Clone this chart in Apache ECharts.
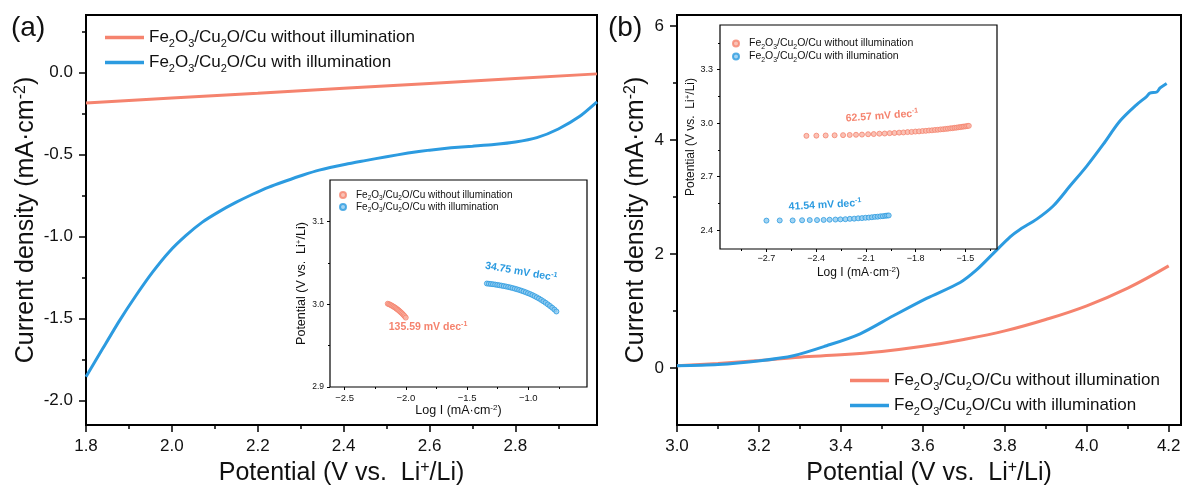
<!DOCTYPE html>
<html>
<head>
<meta charset="utf-8">
<script src="https://cdn.jsdelivr.net/npm/echarts@6/dist/echarts.min.js"></script>
<style>
  html, body { margin: 0; padding: 0; background: #fff; }
  #chart { width: 1186px; height: 491px; }
</style>
</head>
<body>
<div id="chart"></div>
<script>
// ---------- Panel (a): LSV, 1.8 – 3.0 V ----------
const aDarkPotential = [1.80, 2.00, 2.20, 2.40, 2.60, 2.80, 2.99];
const aDarkCurrent   = [-0.186, -0.156, -0.127, -0.097, -0.067, -0.037, -0.009];

const aLightPotential = [1.800, 1.839, 1.877, 1.916, 1.955, 1.994, 2.033, 2.071, 2.110, 2.149, 2.188, 2.226,
                         2.265, 2.304, 2.343, 2.405, 2.45, 2.50, 2.55, 2.60, 2.65, 2.70, 2.75, 2.80,
                         2.85, 2.90, 2.95, 2.99];
const aLightCurrent   = [-1.856, -1.684, -1.518, -1.362, -1.218, -1.093, -0.994, -0.913, -0.849, -0.793, -0.743, -0.699,
                         -0.662, -0.627, -0.596, -0.560, -0.538, -0.514, -0.492, -0.474, -0.460, -0.450, -0.440, -0.425,
                         -0.398, -0.345, -0.268, -0.180];

// Panel (a) inset: Tafel plot
const aTafelDarkLogI = [-2.148, -2.138, -2.128, -2.119, -2.110, -2.100, -2.091, -2.082, -2.073, -2.064,
                        -2.055, -2.046, -2.037, -2.028, -2.019, -2.010, -2.001];
const aTafelDarkE    = [3.0006, 3.0000, 2.9993, 2.9986, 2.9978, 2.9970, 2.9961, 2.9952, 2.9942, 2.9932,
                        2.9921, 2.9909, 2.9897, 2.9884, 2.9870, 2.9855, 2.9838];
const aTafelLightLogI = [-1.338, -1.322, -1.305, -1.288, -1.270, -1.253, -1.236, -1.218, -1.200, -1.182, -1.164,
                         -1.146, -1.128, -1.110, -1.092, -1.074, -1.056, -1.038, -1.020, -1.002, -0.984, -0.966,
                         -0.948, -0.930, -0.912, -0.894, -0.876, -0.858, -0.840, -0.822, -0.804, -0.786, -0.770];
const aTafelLightE    = [3.0250, 3.0247, 3.0244, 3.0241, 3.0237, 3.0233, 3.0229, 3.0224, 3.0219, 3.0214, 3.0208,
                         3.0202, 3.0195, 3.0188, 3.0180, 3.0172, 3.0163, 3.0154, 3.0144, 3.0133, 3.0122, 3.0110,
                         3.0097, 3.0083, 3.0068, 3.0052, 3.0035, 3.0017, 2.9998, 2.9978, 2.9957, 2.9935, 2.9912];

// ---------- Panel (b): LSV, 3.0 – 4.2 V ----------
const bDarkPotential = [3.00, 3.10, 3.20, 3.30, 3.40, 3.50, 3.60, 3.70, 3.80, 3.90, 4.00, 4.10, 4.20];
const bDarkCurrent   = [0.04, 0.08, 0.13, 0.19, 0.23, 0.29, 0.38, 0.50, 0.65, 0.85, 1.09, 1.40, 1.79];

const bLightPotential = [3.000, 3.100, 3.203, 3.284, 3.365, 3.447, 3.528, 3.609, 3.691, 3.731, 3.772, 3.813,
                         3.837, 3.878, 3.918, 3.959, 4.000, 4.040, 4.081, 4.122, 4.146, 4.154, 4.171, 4.179, 4.195];
const bLightCurrent   = [0.04, 0.06, 0.128, 0.215, 0.39, 0.60, 0.915, 1.22, 1.50, 1.72, 2.01, 2.30,
                         2.43, 2.61, 2.84, 3.19, 3.54, 3.92, 4.33, 4.62, 4.76, 4.82, 4.84, 4.91, 4.99];

// Panel (b) inset: Tafel plot
const bTafelDarkLogI = [-2.459, -2.399, -2.343, -2.289, -2.238, -2.198, -2.160, -2.124, -2.087, -2.053, -2.019,
                        -1.987, -1.957, -1.928, -1.900, -1.874, -1.849, -1.825, -1.802, -1.780, -1.759, -1.739,
                        -1.720, -1.702, -1.684, -1.667, -1.651, -1.635, -1.620, -1.606, -1.592, -1.579, -1.566,
                        -1.554, -1.542, -1.531, -1.520, -1.510, -1.500, -1.490, -1.480];
const bTafelDarkE    = [2.929, 2.930, 2.931, 2.932, 2.933, 2.934, 2.935, 2.936, 2.938, 2.939, 2.941,
                        2.942, 2.944, 2.945, 2.947, 2.948, 2.950, 2.951, 2.953, 2.954, 2.956, 2.957,
                        2.959, 2.960, 2.962, 2.963, 2.965, 2.966, 2.968, 2.969, 2.971, 2.972, 2.974,
                        2.975, 2.977, 2.978, 2.980, 2.981, 2.982, 2.984, 2.985];
const bTafelLightLogI = [-2.700, -2.620, -2.542, -2.485, -2.439, -2.395, -2.355, -2.319, -2.284, -2.254, -2.224,
                         -2.197, -2.171, -2.147, -2.124, -2.103, -2.083, -2.064, -2.046, -2.029, -2.013,
                         -1.998, -1.984, -1.973, -1.963];
const bTafelLightE    = [2.454, 2.455, 2.455, 2.456, 2.457, 2.457, 2.458, 2.459, 2.460, 2.461, 2.462,
                         2.464, 2.465, 2.467, 2.468, 2.470, 2.471, 2.473, 2.475, 2.476, 2.478,
                         2.479, 2.481, 2.482, 2.483];

// ---------- Tick values ----------
const aXTicks = [1.8, 2.0, 2.2, 2.4, 2.6, 2.8];
const aXMinor = [1.9, 2.1, 2.3, 2.5, 2.7, 2.9];
const aYTicks = [-2.0, -1.5, -1.0, -0.5, 0.0];
const aYMinor = [-1.75, -1.25, -0.75, -0.25, 0.25];
const bXTicks = [3.0, 3.2, 3.4, 3.6, 3.8, 4.0, 4.2];
const bXMinor = [3.1, 3.3, 3.5, 3.7, 3.9, 4.1];
const bYTicks = [0, 2, 4, 6];
const bYMinor = [1, 3, 5];
const aInsetXTicks = [-2.5, -2.0, -1.5, -1.0];
const aInsetXMinor = [-2.25, -1.75, -1.25, -0.75];
const aInsetYTicks = [2.9, 3.0, 3.1];
const aInsetYMinor = [2.95, 3.05];
const bInsetXTicks = [-2.7, -2.4, -2.1, -1.8, -1.5];
const bInsetXMinor = [-2.85, -2.55, -2.25, -1.95, -1.65, -1.35];
const bInsetYTicks = [2.4, 2.7, 3.0, 3.3];
const bInsetYMinor = [2.55, 2.85, 3.15, 3.45];

// ---------- Styling ----------
const FONT = '"Liberation Sans", Arial, Helvetica, sans-serif';
const RED = '#F5836E';
const BLUE = '#2C9BE0';
const RED_FILL = '#F9B3A4';
const BLUE_FILL = '#8CC9F0';
const TXT = '#111';

const pairs = (xs, ys) => xs.map((x, i) => [x, ys[i]]);

const fmtHyphen1 = v => (Math.abs(v) < 1e-9 ? '0.0' : v.toFixed(1));
const fmtMinus1 = v => (v < 0 ? '\u2212' + Math.abs(v).toFixed(1) : v.toFixed(1));
const fmtInt = v => String(Math.round(v));

function axisPair(dim, grid, min, max, major, minor, fmt, s) {
  const common = {
    type: 'value', gridIndex: grid, min: min, max: max, z: s.z,
    position: dim === 'x' ? 'bottom' : 'left',
    splitLine: { show: false },
    axisLine: { show: false, onZero: false },
  };
  const main = Object.assign({}, common, {
    name: s.name,
    nameLocation: 'middle',
    nameGap: s.nameGap,
    nameTextStyle: {
      fontFamily: FONT, fontSize: s.nameSize, color: TXT,
      rich: { p: { fontFamily: FONT, fontSize: s.supSize, color: TXT, padding: [0, 0, s.supPad, 0] } }
    },
    axisTick: { show: true, inside: false, length: s.tick, lineStyle: { color: '#000', width: s.tickW }, customValues: major },
    axisLabel: { show: true, customValues: major, formatter: fmt, margin: s.margin, fontSize: s.font, fontFamily: FONT, color: TXT },
  });
  const sub = Object.assign({}, common, {
    axisTick: { show: true, inside: false, length: s.minorTick, lineStyle: { color: '#000', width: s.tickW }, customValues: minor },
    axisLabel: { show: false },
  });
  return [main, sub];
}

const mainX = { z: 1, tick: 7, minorTick: 4, tickW: 1.5, font: 17, margin: 13, nameSize: 25, supSize: 16, supPad: 11 };
const mainY = Object.assign({}, mainX);
const insetS = { z: 6, tick: 3, minorTick: 2, tickW: 1, font: 9.5, margin: 6, nameSize: 12.5, supSize: 8, supPad: 6 };

const potentialName = 'Potential (V vs.  Li{p|+}/Li)';
const currentName = 'Current density (mA\u00B7cm{p|-2})';
const logName = 'Log I (mA\u00B7cm{p|-2})';

const xAxes = [].concat(
  axisPair('x', 0, 1.8, 2.99, aXTicks, aXMinor, fmtHyphen1, Object.assign({}, mainX, { name: potentialName, nameGap: 35 })),
  axisPair('x', 1, -2.62, -0.52, aInsetXTicks, aInsetXMinor, fmtMinus1, Object.assign({}, insetS, { name: logName, nameGap: 17 })),
  axisPair('x', 2, 3.0, 4.23, bXTicks, bXMinor, fmtHyphen1, Object.assign({}, mainX, { name: potentialName, nameGap: 35 })),
  axisPair('x', 3, -2.98, -1.31, bInsetXTicks, bInsetXMinor, fmtMinus1, Object.assign({}, insetS, { font: 9, margin: 5, nameSize: 12, name: logName, nameGap: 17 }))
);
const yAxes = [].concat(
  axisPair('y', 0, -2.15, 0.35, aYTicks, aYMinor, fmtHyphen1, Object.assign({}, mainY, { name: currentName, nameGap: 46 })),
  axisPair('y', 1, 2.9, 3.15, aInsetYTicks, aInsetYMinor, fmtMinus1, Object.assign({}, insetS, { font: 8.5, margin: 6, name: potentialName, nameGap: 20 })),
  axisPair('y', 2, -1.0, 6.19, bYTicks, bYMinor, fmtInt, Object.assign({}, mainY, { name: currentName, nameGap: 27 })),
  axisPair('y', 3, 2.295, 3.55, bInsetYTicks, bInsetYMinor, fmtMinus1, Object.assign({}, insetS, { font: 9, margin: 7, nameSize: 12, name: potentialName, nameGap: 20 }))
);

const grids = [
  { left: 86, top: 15, width: 511, height: 412, show: true, borderColor: '#000', borderWidth: 2, backgroundColor: 'transparent', z: 0 },
  { left: 330, top: 180, width: 257, height: 207, show: true, borderColor: '#000', borderWidth: 1.2, backgroundColor: '#fff', z: 5 },
  { left: 677, top: 15, width: 504, height: 412, show: true, borderColor: '#000', borderWidth: 2, backgroundColor: 'transparent', z: 0 },
  { left: 720, top: 25, width: 277, height: 224, show: true, borderColor: '#000', borderWidth: 1.2, backgroundColor: '#fff', z: 5 },
];

function lineSeries(name, axis, data, color, smooth) {
  return {
    name: name, type: 'line', xAxisIndex: axis, yAxisIndex: axis, data: data,
    showSymbol: false, symbol: 'none', smooth: smooth,
    lineStyle: { color: color, width: 3 }, itemStyle: { color: color }, z: 2, silent: true,
  };
}
function dotSeries(name, axis, data, color, fill) {
  return {
    name: name, type: 'scatter', xAxisIndex: axis, yAxisIndex: axis, data: data,
    symbol: 'circle', symbolSize: 5,
    itemStyle: { color: fill, borderColor: color, borderWidth: 1 }, z: 7, silent: true,
  };
}

const series = [
  lineSeries('a-dark', 0, pairs(aDarkPotential, aDarkCurrent), RED, false),
  lineSeries('a-light', 0, pairs(aLightPotential, aLightCurrent), BLUE, 0.2),
  dotSeries('ai-dark', 2, pairs(aTafelDarkLogI, aTafelDarkE), RED, RED_FILL),
  dotSeries('ai-light', 2, pairs(aTafelLightLogI, aTafelLightE), BLUE, BLUE_FILL),
  lineSeries('b-dark', 4, pairs(bDarkPotential, bDarkCurrent), RED, 0.4),
  lineSeries('b-light', 4, pairs(bLightPotential, bLightCurrent), BLUE, 0.3),
  dotSeries('bi-dark', 6, pairs(bTafelDarkLogI, bTafelDarkE), RED, RED_FILL),
  dotSeries('bi-light', 6, pairs(bTafelLightLogI, bTafelLightE), BLUE, BLUE_FILL),
];

// Legend labels with subscripted formula
const darkLabel = 'Fe{s|2}O{s|3}/Cu{s|2}O/Cu without illumination';
const lightLabel = 'Fe{s|2}O{s|3}/Cu{s|2}O/Cu with illumination';
const legendFormatter = name => (name.indexOf('dark') >= 0 ? darkLabel : lightLabel);

function mainLegend(names, left, top) {
  return {
    data: names.map(n => ({ name: n, icon: 'rect' })), left: left, top: top, orient: 'vertical',
    itemWidth: 39, itemHeight: 3.5, itemGap: 5, selectedMode: false,
    formatter: legendFormatter,
    textStyle: {
      fontFamily: FONT, fontSize: 17, color: TXT,
      rich: { s: { fontFamily: FONT, fontSize: 11, color: TXT, padding: [12, 0, 0, 0] } }
    },
    z: 4,
  };
}
function insetLegend(names, left, top, size, gap) {
  return {
    data: names.map(n => ({ name: n, icon: 'circle' })), left: left, top: top, orient: 'vertical',
    itemWidth: 16, itemHeight: 6, itemGap: gap, selectedMode: false,
    formatter: legendFormatter,
    textStyle: {
      fontFamily: FONT, fontSize: size, color: TXT,
      rich: { s: { fontFamily: FONT, fontSize: size * 0.65, color: TXT, padding: [7, 0, 0, 0] } }
    },
    z: 8,
  };
}

function slopeText(text, x, y, deg, color) {
  return {
    type: 'text', x: x, y: y, rotation: deg * Math.PI / 180, z: 10, silent: true,
    style: {
      text: text, fill: color, fontFamily: FONT, fontSize: 10.5, fontWeight: 'bold',
      align: 'center', verticalAlign: 'middle',
      rich: { p: { fill: color, fontFamily: FONT, fontSize: 7, fontWeight: 'bold', padding: [0, 0, 6, 0] } }
    }
  };
}

const option = {
  backgroundColor: '#fff',
  animation: false,
  grid: grids,
  xAxis: xAxes,
  yAxis: yAxes,
  series: series,
  legend: [
    mainLegend(['a-dark', 'a-light'], 100, 24),
    insetLegend(['ai-dark', 'ai-light'], 334, 185, 10, 0),
    mainLegend(['b-dark', 'b-light'], 845, 367),
    insetLegend(['bi-dark', 'bi-light'], 727, 33, 10.5, 0.5),
  ],
  graphic: [
    { type: 'text', left: 11, top: 14, z: 10, style: { text: '(a)', fontFamily: FONT, fontSize: 28, fill: TXT } },
    { type: 'text', left: 608, top: 14, z: 10, style: { text: '(b)', fontFamily: FONT, fontSize: 28, fill: TXT } },
    slopeText('135.59 mV dec{p|-1}', 428, 327, 0, RED),
    slopeText('34.75 mV dec{p|-1}', 521, 272, -10, BLUE),
    slopeText('62.57 mV dec{p|-1}', 882, 116, 4, RED),
    slopeText('41.54 mV dec{p|-1}', 825, 205, 3, BLUE),
  ],
};

const chart = echarts.init(document.getElementById('chart'), null, { renderer: 'canvas' });
chart.setOption(option);
</script>
</body>
</html>
